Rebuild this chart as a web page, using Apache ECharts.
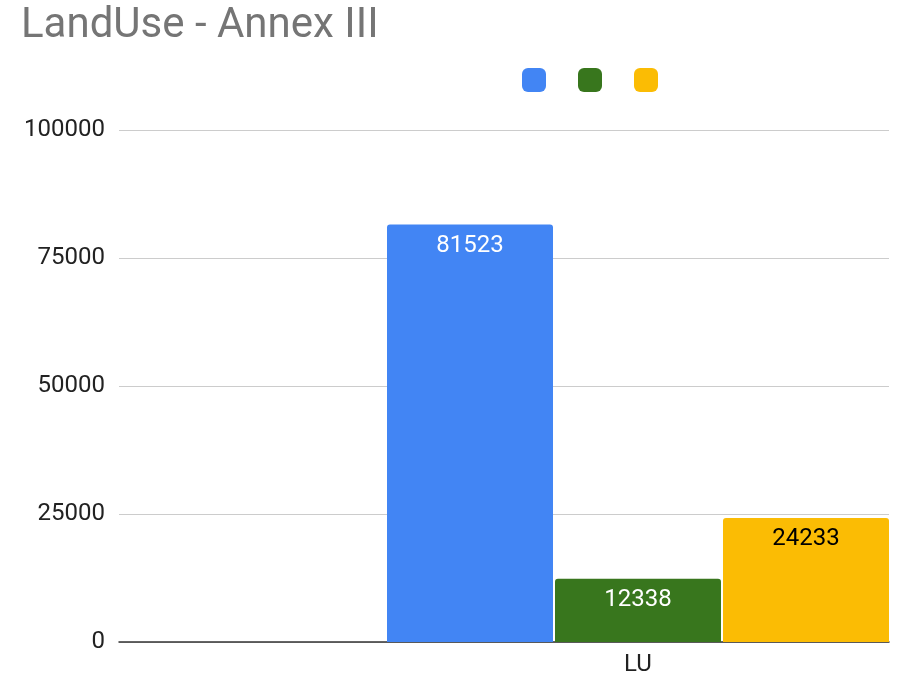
<!DOCTYPE html>
<html>
<head>
<meta charset="utf-8">
<script src="https://cdn.jsdelivr.net/npm/echarts@6/dist/echarts.min.js"></script>
<style>
  html, body { margin: 0; padding: 0; background: #fff; }
  #chart { width: 907px; height: 678px; }
</style>
</head>
<body>
<div id="chart"></div>
<script>
const categories = ['LU']
const seriesNames = ['Series A', 'Series B', 'Series C']
const seriesColors = ['#4285F4', '#38761D', '#FBBC04']
const seriesValues = [[81523], [12338], [24233]]
const labelColors = ['#ffffff', '#ffffff', '#000000']
const yTicks = [0, 25000, 50000, 75000, 100000]

const chart = echarts.init(document.getElementById('chart'), null, {renderer: 'canvas'})

const font = 'Roboto'

const option = {
  animation: false,
  textStyle: {fontFamily: font},
  title: {
    text: 'LandUse - Annex III',
    left: 16,
    top: 0,
    textStyle: {color: '#757575', fontSize: 42, fontWeight: 'normal', fontFamily: font}
  },
  legend: {
    top: 63,
    left: 517,
    itemWidth: 24,
    itemHeight: 24,
    itemGap: 32,
    icon: 'roundRect',
    formatter: () => '',
    data: seriesNames
  },
  // grid 0 carries the y axis, split lines and baseline; grid 1 holds the bars
  grid: [
    {left: 119, right: 18, top: 130, bottom: 36},
    {left: 387, right: 18, top: 130, bottom: 36}
  ],
  xAxis: [
    {
      gridIndex: 0,
      type: 'category',
      data: categories,
      axisLine: {lineStyle: {color: '#333', width: 1.5}},
      axisTick: {show: false},
      axisLabel: {show: false}
    },
    {
      gridIndex: 1,
      type: 'category',
      data: categories,
      axisLine: {show: false},
      axisTick: {show: false},
      axisLabel: {color: '#222', fontSize: 24, margin: 11, fontFamily: font}
    }
  ],
  yAxis: [
    {
      gridIndex: 0,
      type: 'value',
      min: yTicks[0],
      max: yTicks[yTicks.length - 1],
      interval: yTicks[1] - yTicks[0],
      axisLine: {show: false},
      axisTick: {show: false},
      axisLabel: {color: '#222', fontSize: 24, margin: 14, fontFamily: font, formatter: v => String(v)},
      splitLine: {lineStyle: {color: '#ccc', width: 1}}
    },
    {
      gridIndex: 1,
      type: 'value',
      min: yTicks[0],
      max: yTicks[yTicks.length - 1],
      interval: yTicks[1] - yTicks[0],
      show: false,
      splitLine: {show: false}
    }
  ],
  series: seriesNames.map((name, i) => ({
    name: name,
    type: 'bar',
    xAxisIndex: 1,
    yAxisIndex: 1,
    data: seriesValues[i],
    barCategoryGap: '0%',
    barGap: '1.2%',
    itemStyle: {color: seriesColors[i], borderRadius: [3, 3, 0, 0]},
    label: {
      show: true,
      position: 'insideTop',
      distance: 9,
      color: labelColors[i],
      fontSize: 24,
      fontFamily: font
    }
  }))
}

chart.setOption(option)
</script>
</body>
</html>
